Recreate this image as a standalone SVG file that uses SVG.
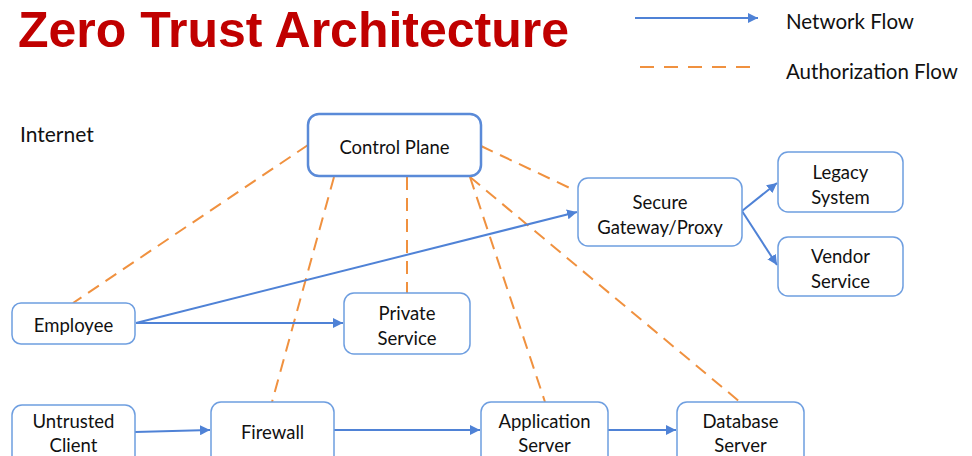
<svg xmlns="http://www.w3.org/2000/svg" width="972" height="456" viewBox="0 0 972 456">
<defs>
<style>
.title{font-family:"Liberation Sans",Arial,sans-serif;font-weight:bold;font-size:50px;fill:#c00000}
.t{font-family:Lato,"Open Sans",sans-serif;font-size:18.5px;fill:#111}
.lg{font-size:20.5px}
.box{fill:#fff;stroke:#6e9ee0;stroke-width:1.5}
.cp{fill:#fff;stroke:#5a8ad8;stroke-width:2.5}
.net{stroke:#4f82d6;stroke-width:2;fill:none;marker-end:url(#ah)}
.auth{stroke:#f0913f;stroke-width:2;fill:none;stroke-dasharray:13 8}
</style>
<marker id="ah" viewBox="0 0 10 10" refX="10" refY="5" markerWidth="5" markerHeight="5" orient="auto" markerUnits="strokeWidth">
<path d="M0,0 L10,5 L0,10 z" fill="#4f82d6"/>
</marker>
</defs>
<rect width="972" height="456" fill="#fff"/>
<text class="title" x="18" y="47">Zero Trust Architecture</text>
<g id="legend">
<line class="net" x1="635" y1="18" x2="758" y2="18"/>
<text class="t lg" x="786" y="29">Network Flow</text>
<line class="auth" x1="640" y1="67" x2="758" y2="67" style="stroke-dasharray:14 10"/>
<text class="t lg" x="786" y="79">Authorization Flow</text>
</g>
<text class="t" x="20" y="142" style="font-size:21px">Internet</text>
<g id="connectors">
<line class="auth" x1="308" y1="145" x2="73" y2="303"/>
<line class="auth" x1="334" y1="177" x2="272" y2="402"/>
<line class="auth" x1="407" y1="177" x2="407" y2="293"/>
<line class="auth" x1="470" y1="177" x2="545" y2="402"/>
<line class="auth" x1="470" y1="177" x2="740" y2="402"/>
<line class="auth" x1="481" y1="146" x2="574" y2="190"/>
<line class="net" x1="136" y1="323" x2="577" y2="212"/>
<line class="net" x1="136" y1="323" x2="343" y2="323"/>
<line class="net" x1="742" y1="211" x2="777" y2="183"/>
<line class="net" x1="742" y1="211" x2="777" y2="265"/>
<line class="net" x1="135" y1="432" x2="210" y2="430"/>
<line class="net" x1="334" y1="430" x2="480" y2="430"/>
<line class="net" x1="608" y1="430" x2="676" y2="430"/>
</g>
<g id="control-plane">
<rect class="cp" x="308" y="114" width="173" height="62" rx="11"/>
<text class="t" x="394.5" y="154" text-anchor="middle">Control Plane</text>
</g>
<g id="secure-gateway">
<rect class="box" x="578" y="178" width="164" height="68" rx="10"/>
<text class="t" x="660" y="209" text-anchor="middle">Secure</text>
<text class="t" x="660" y="234" text-anchor="middle">Gateway/Proxy</text>
</g>
<g id="legacy-system">
<rect class="box" x="778" y="152" width="125" height="60" rx="10"/>
<text class="t" x="840.5" y="179" text-anchor="middle">Legacy</text>
<text class="t" x="840.5" y="204" text-anchor="middle">System</text>
</g>
<g id="vendor-service">
<rect class="box" x="778" y="237" width="125" height="59" rx="10"/>
<text class="t" x="840.5" y="263" text-anchor="middle">Vendor</text>
<text class="t" x="840.5" y="288" text-anchor="middle">Service</text>
</g>
<g id="employee">
<rect class="box" x="12" y="303" width="123" height="41" rx="9"/>
<text class="t" x="73.5" y="332" text-anchor="middle">Employee</text>
</g>
<g id="private-service">
<rect class="box" x="344" y="293" width="126" height="61" rx="10"/>
<text class="t" x="407" y="320" text-anchor="middle">Private</text>
<text class="t" x="407" y="345" text-anchor="middle">Service</text>
</g>
<g id="untrusted-client">
<rect class="box" x="12" y="405" width="123" height="70" rx="10"/>
<text class="t" x="73.5" y="428" text-anchor="middle">Untrusted</text>
<text class="t" x="73.5" y="452" text-anchor="middle">Client</text>
</g>
<g id="firewall">
<rect class="box" x="211" y="402" width="123" height="70" rx="10"/>
<text class="t" x="272.5" y="439" text-anchor="middle">Firewall</text>
</g>
<g id="application-server">
<rect class="box" x="481" y="402" width="127" height="70" rx="10"/>
<text class="t" x="544.5" y="428" text-anchor="middle">Application</text>
<text class="t" x="544.5" y="452" text-anchor="middle">Server</text>
</g>
<g id="database-server">
<rect class="box" x="677" y="402" width="127" height="70" rx="10"/>
<text class="t" x="740.5" y="428" text-anchor="middle">Database</text>
<text class="t" x="740.5" y="452" text-anchor="middle">Server</text>
</g>
</svg>
